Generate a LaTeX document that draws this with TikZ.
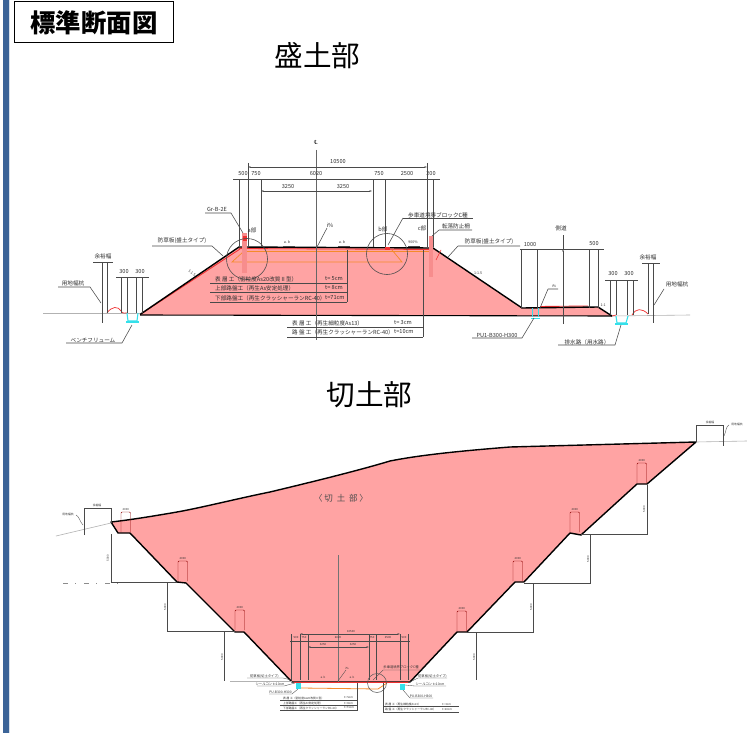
\documentclass[tikz,border=0pt]{standalone}
\usepackage{fontspec}
\setmainfont{Noto Sans CJK JP}
\newfontfamily\symfont{DejaVu Sans}
\usetikzlibrary{arrows.meta}
\definecolor{fillpink}{HTML}{FFA3A3}
\definecolor{barblue}{HTML}{3C6498}
\definecolor{flume}{HTML}{35E0EA}
\definecolor{redl}{HTML}{F03030}
\definecolor{orangel}{HTML}{F58A2A}
\definecolor{inkg}{HTML}{4A4A4A}
\definecolor{txtg}{HTML}{303030}
\tikzset{
  x=1pt,y=-1pt,
  >={Stealth[length=2.6pt,width=1.6pt]},
  fillbody/.style={fill=fillpink,draw=none},
  edgeln/.style={draw=black,line width=1.4pt,line join=round},
  thinln/.style={draw=inkg,line width=0.55pt},
  dimln/.style={draw=inkg,line width=0.45pt,<->},
  extln/.style={draw=inkg,line width=0.5pt},
  ground/.style={draw=black!30,line width=0.6pt},
  lab/.style={inner sep=0pt,text=txtg,font=\fontsize{5.6}{6}\selectfont},
  labs/.style={inner sep=0pt,text=txtg,font=\fontsize{3.6}{4}\selectfont},
  labm/.style={inner sep=0pt,text=txtg,font=\fontsize{3.3}{4}\selectfont},
  labt/.style={inner sep=0pt,text=txtg,font=\fontsize{2.8}{3}\selectfont},
  flumeln/.style={draw=flume,line width=1.1pt},
  postbox/.style={draw=red!55!black,line width=0.4pt,rounded corners=1pt},
}
\begin{document}
\begin{tikzpicture}
\useasboundingbox (0,0) rectangle (747,733);
\fill[white] (0,0) rectangle (747,733);
\fill[barblue] (3,0) rectangle (9,733);
\fill[barblue!20] (9,0) rectangle (10,733);
% title
\node[draw=black,line width=1.1pt,fill=white,minimum width=159pt,minimum height=41pt,inner sep=0pt,anchor=north west] (title) at (14,1) {};
\node[inner sep=0pt,font=\fontsize{25.4}{27}\selectfont\bfseries] (titletext) at (94,23) {標準断面図};
\node[inner sep=0pt,font=\fontsize{28.6}{30}\selectfont] (h1) at (317.5,56) {盛土部};
\node[inner sep=0pt,font=\fontsize{28.6}{30}\selectfont] (h2) at (369.5,395) {切土部};

% ---------- embankment
\fill[fillbody] (239,247)--(433,248)--(522,308)--(598,307)--(612,316)--(140,315)--cycle;
\draw[redl,line width=0.9pt] (141,314)--(240,249);
\draw[redl,line width=0.9pt] (540,306.5)--(588,306);
\draw[edgeln] (140,314.5)--(239,247)--(433,248)--(522,308)--(598,307)--(612,316);
\draw[black,line width=1.1pt] (140,315)--(612,316);
\draw[redl,line width=0.8pt] (239,248.5)--(433,249.5);
\draw[orangel,line width=0.7pt] (243,251)--(432,251);
\draw[orangel,line width=0.7pt] (243,252)--(232,262)--(402,262)--(392,250);
\fill[redl!55] (242,233) rectangle (247,273);
\fill[redl] (243,236) rectangle (247,241);
\fill[redl!55] (429,236) rectangle (432.5,277);
\fill[redl] (385,247) rectangle (390,250);
\draw[redl,line width=0.6pt] (436,260)--(441,250);
% ground and ditches
\draw[ground] (43,313)--(140,313);
\draw[ground] (612,316)--(690,315);
\draw[redl,line width=0.7pt] (107,313) .. controls (112,306) and (118,306) .. (121,311) .. controls (123,314) and (125,313) .. (127,313);
\draw[redl,line width=0.7pt] (632,315) .. controls (636,308) and (642,308) .. (648,314);
\draw[redl,line width=0.7pt] (612,316)--(616,315);
\draw[flumeln] (127,313)--(128,321)--(137,321)--(138,313);
\draw[flumeln] (126,322)--(139,322);
\draw[flumeln] (616,316)--(617,323)--(626,323)--(628,316);
\draw[flumeln] (615,324)--(628,324);
\draw[flumeln,line width=0.8pt] (532,308)--(532,317) (538,308)--(538,317);
\draw[flumeln,line width=0.8pt] (531,318)--(540,318);
% centre line
\draw[black!60,line width=0.8pt] (316.7,150)--(316.7,340);
\node[lab,font=\symfont\fontsize{5.6}{6}\selectfont] (cl) at (316,142) {℄};
% dims
\draw[dimln] (248,167)--(427,167);
\node[lab] (d10500) at (338,162) {10500};
\draw[extln] (233,179)--(440,179);
\node[lab] (d500a) at (243,174) {500};
\node[lab] (d750a) at (256,174) {750};
\node[lab] (d6020) at (316,174) {6020};
\node[lab] (d750b) at (379,174) {750};
\node[lab] (d2500) at (407,174) {2500};
\node[lab] (d200) at (431,174) {200};
\draw[dimln] (261,191)--(372,191);
\node[lab] (d3250a) at (288,187) {3250};
\node[lab] (d3250b) at (343,187) {3250};
\foreach \xx in {239,248,261,373,385,427,433}{\draw[extln] (\xx,179)--(\xx,247);}
\draw[extln] (248,163)--(248,179) (427,163)--(427,179);
% detail circles
\draw[black!70,line width=0.6pt] (247,259) circle[radius=20.5pt];
\draw[black!70,line width=0.6pt] (387,254) circle[radius=20.5pt];
% left labels
\node[lab] (grb) at (217,209) {Gr-B-2E};
\draw[thinln] (205,213)--(231,213)--(243,233);
\node[lab] (apart) at (252,230) {a部};
\node[lab] (bsL) at (182,241) {防草板(盛土タイプ)};
\draw[thinln] (152,246)--(212,246)--(223,256);
\node[lab] (isl) at (330,225) {i\%};
\draw[thinln] (327,228)--(317,247);
\draw[thinln] (283,246)--(295,246) (338,246)--(350,246);
\node[labs] (ab1) at (287,242) {a. b};
\node[labs] (ab2) at (342,242) {a. b};
% pavement table
\node[lab,anchor=west] (p1) at (215,279) {表 層 工（密粒度As20改質Ⅱ型）};
\node[lab,anchor=west] (p1t) at (325,279) {t= 5cm};
\node[lab,anchor=west] (p2) at (215,288) {上部路盤工（再生As安定処理）};
\node[lab,anchor=west] (p2t) at (325,288) {t= 8cm};
\node[lab,anchor=west] (p3) at (215,298) {下部路盤工（再生クラッシャーランRC-40）};
\node[lab,anchor=west] (p3t) at (325,298) {t=71cm};
\draw[thinln] (210,283)--(347,283) (210,292)--(347,292) (210,302)--(347,302) (347,250)--(347,302);
\node[lab,anchor=west] (q1) at (292,323) {表 層 工（再生細粒度As13）};
\node[lab,anchor=west] (q1t) at (394,323) {t= 3cm};
\node[lab,anchor=west] (q2) at (292,332) {路 盤 工（再生クラッシャーランRC-40）};
\node[lab,anchor=west] (q2t) at (394,332) {t=10cm};
\draw[thinln] (287,327)--(423,327) (287,337)--(423,337) (423,250)--(423,337);
% left edge dims
\foreach \xx/\ya/\yb in {102/262/323,107/262/313,121/277/313,127/277/313,136/277/313,142/277/313}{\draw[extln] (\xx,\ya)--(\xx,\yb);}
\draw[extln] (93,262)--(113,262);
\draw[extln] (116,277)--(149,277);
\node[lab] (yo1) at (103,256) {余裕幅};
\node[lab] (w1) at (124,272) {300};
\node[lab] (w2) at (140,272) {300};
\node[lab] (ku1) at (73,283) {用地幅杭};
\draw[thinln] (58,287)--(90,287)--(101,303);
\node[lab] (bf) at (93,340) {ベンチフリューム};
\draw[thinln] (66,343)--(122,343)--(132,325);
% right labels
\node[lab] (br) at (438,215) {歩車道境界ブロックC種};
\draw[thinln] (403,218)--(473,218);
\draw[thinln] (403,218)--(388,245);
\node[lab] (bpart) at (383,229) {b部};
\node[lab] (cpart) at (422,228) {c部};
\node[lab] (ten) at (456,226) {転落防止柵};
\draw[thinln] (439,230)--(472,230) (439,230)--(432,236);
\node[lab] (bsR) at (489,242) {防草板(盛土タイプ)};
\draw[thinln] (458,246)--(520,246) (458,246)--(448,257);
\node[labs] (p900) at (413,242) {900\%};
\draw[thinln] (408,246)--(420,246);
\node[labs] (s1) at (478,273) {1:1.5};
\node[labs] (s2) at (603,305) {1:1};
\node[labs,rotate=-35] (s3) at (192,273) {1:1.5};
% side road
\node[lab] (sd) at (561,228) {側道};
\draw[extln,->] (563,324)--(563,249);
\draw[extln] (563,235)--(563,249);
\draw[extln] (520,249)--(604,249);
\foreach \xx in {521,537,589,598}{\draw[extln] (\xx,249)--(\xx,308);}
\node[lab] (w1000) at (530,245) {1000};
\node[lab] (w500) at (594,244) {500};
\node[labs] (isr) at (554,286) {i\%};
\draw[thinln] (548,289)--(558,289) (548,289)--(540,308);
\node[lab] (pu) at (497,335) {PU1-B300-H300};
\draw[thinln] (472,338)--(522,338)--(534,318);
\node[lab] (hai) at (587,342) {排水路（用水路）};
\draw[thinln] (558,345)--(615,345)--(621,325);
% right edge dims
\foreach \xx in {610,616,627,633}{\draw[extln] (\xx,280)--(\xx,315);}
\draw[extln] (605,280)--(638,280);
\node[lab] (w3) at (613,274) {300};
\node[lab] (w4) at (629,274) {300};
\draw[extln] (642,263)--(660,263) (648,263)--(648,314) (653,263)--(653,323);
\node[lab] (yo2) at (648,257) {余裕幅};
\node[lab] (ku2) at (677,284) {用地幅杭};
\draw[thinln] (664,289)--(654,305);

% ---------- cut section
\fill[fillbody] (111,522) .. controls (130,520) and (160,515) .. (177,512)
  .. controls (200,508) and (240,498) .. (270,492) .. controls (320,480) and (360,470) .. (390,461)
  .. controls (420,455) and (460,451) .. (510,447) -- (696,442)
  -- (647,484)--(637,484)--(581,535)--(570,533)--(524,582)--(515,582)--(467,632)--(457,632)--(410,682)--(292,682)
  --(244,632)--(235,632)--(186,583)--(177,582)--(130,533)--(118,533)--cycle;
\draw[edgeln] (111,522) .. controls (130,520) and (160,515) .. (177,512)
  .. controls (200,508) and (240,498) .. (270,492) .. controls (320,480) and (360,470) .. (390,461)
  .. controls (420,455) and (460,451) .. (510,447) -- (696,442)
  -- (647,484)--(637,484)--(581,535)--(570,533)--(524,582)--(515,582)--(467,632)--(457,632)--(410,682)--(292,682)
  --(244,632)--(235,632)--(186,583)--(177,582)--(130,533)--(118,533)--cycle;
\draw[redl,line width=0.9pt] (294,682)--(408,682);
\node[inner sep=0pt,text=black!70,font=\fontsize{8.5}{10}\selectfont] (cutlab) at (341,498) {〈\ 切\ \ 土\ \ 部\ 〉};
% ground
\draw[ground] (56,536)--(111,523);
\draw[ground] (696,442)--(747,441);
\draw[ground] (230,681)--(292,681);
% top dims
\draw[extln] (84,535)--(84,508)--(111,508)--(111,523);
\node[labt] (yo3) at (97,505) {余裕幅};
\node[labt] (ku3) at (68,514) {用地幅杭};
\draw[thinln,line width=0.35pt] (76,515) .. controls (79,516) and (80,522) .. (83,525);
\draw[extln] (696,442)--(696,425)--(723,425)--(723,446);
\node[labt] (yo4) at (710,422) {余裕幅};
\node[labt] (ku4) at (737,424.5) {用地幅杭};
\draw[thinln,line width=0.35pt] (729,425) .. controls (726,426) and (726,432) .. (724,436);
% posts
\foreach \xa/\ya in {121/512,178/561,235/610,457/611,513/561,570/512,637/463}{
  \draw[postbox] (\xa,\ya+20)--(\xa,\ya)--(\xa+9.5,\ya)--(\xa+9.5,\ya+20);
  \node[labt] at (\xa+4.75,\ya-3) {2000};
}
% steps
\draw[extln] (111,534)--(111,582)--(177,582);
\draw[extln] (167,583)--(167,631)--(235,631);
\draw[extln] (224,632)--(224,681);
\draw[extln] (467,632)--(533,632)--(533,583);
\draw[extln] (524,583)--(590,583)--(590,535);
\draw[extln] (581,534)--(647,534)--(647,485);
\draw[extln] (476,632)--(476,680);
\node[labt,rotate=90] (st1) at (108,558) {5000};
\node[labt,rotate=90] (st2) at (165,607) {5000};
\node[labt,rotate=90] (st3) at (222,657) {5000};
\node[labt,rotate=90] (st4) at (531,607) {5000};
\node[labt,rotate=90] (st5) at (588,559) {5000};
\node[labt,rotate=90] (st6) at (644,509) {5000};
\node[labt,rotate=90] (st7) at (474,657) {5000};
\draw[black!45,line width=0.6pt,dash pattern=on 5pt off 7pt on 1pt off 8pt] (63,583.5)--(122,583.5);
% bottom plan
\draw[black!55,line width=0.5pt] (338,555)--(338,682);
\draw[dimln] (300,634)--(400,634);
\node[labt] (e10500) at (351,631) {10500};
\draw[extln] (290,641)--(410,641);
\draw[dimln] (308,647)--(369,647);
\foreach \xx in {291,300,308,369,376,400,408}{\draw[extln] (\xx,634)--(\xx,680);}
\node[labt] (e1) at (296,637.5) {500};
\node[labt] (e2) at (304,637.5) {750};
\node[labt] (e3) at (338,637.5) {6020};
\node[labt] (e4) at (372,637.5) {750};
\node[labt] (e5) at (388,637.5) {2500};
\node[labt] (e6) at (404,637.5) {500};
\node[labt] (e7) at (323,644) {3250};
\node[labt] (e8) at (353,644) {3250};
\draw[orangel,line width=0.8pt] (301,688)--(378,689)--(387,683);
\draw[black!65,line width=0.5pt] (377,683) circle[radius=9.5pt];
\fill[flume] (296,683) rectangle (301,688.5);
\fill[flume] (400,684) rectangle (405,689.5);
\node[labt] (il2) at (347,668) {i\%};
\draw[thinln,line width=0.35pt] (346,670)--(338,681);
\node[labt] (a1) at (323,677) {a. b};
\node[labt] (a2) at (352,677) {a. b};
\node[labm] (bk) at (401,667) {歩車道境界ブロックC種};
\draw[thinln,line width=0.35pt] (383,670)--(423,670) (383,670)--(373,680);
\node[labm] (bl) at (264.5,676) {防草板(切土タイプ)};
\draw[thinln,line width=0.35pt] (247,678)--(283,678)--(291,680);
\node[labm] (sl) at (270,684) {シールコン t=10cm};
\draw[thinln,line width=0.35pt] (257,686)--(284,686)--(295,683);
\node[labm] (pl) at (280.5,692) {PU-B300-H300};
\draw[thinln,line width=0.35pt] (269,694)--(292,694)--(298,689);
\node[labm] (br2) at (432.5,676) {防草板(切土タイプ)};
\draw[thinln,line width=0.35pt] (418,678)--(447,678) (418,678)--(410,682);
\node[labm] (sr) at (430,684) {シールコン t=10cm};
\draw[thinln,line width=0.35pt] (415,686)--(446,686) (415,686)--(405,685);
\node[labm] (pr) at (421,696) {PU-B300-H300};
\draw[thinln,line width=0.35pt] (410,698)--(433,698) (410,698)--(403,690);
% bottom tables
\node[labt,anchor=west] (t1) at (283,698) {表 層 工（密粒度As20改質Ⅱ型）};
\node[labt,anchor=west] (t1b) at (344,698) {t= 5cm};
\node[labt,anchor=west] (t2) at (283,703) {上部路盤工（再生As安定処理）};
\node[labt,anchor=west] (t2b) at (344,703) {t= 8cm};
\node[labt,anchor=west] (t3) at (283,708) {下部路盤工（再生クラッシャーランRC-40）};
\node[labt,anchor=west] (t3b) at (344,708) {t=71cm};
\draw[thinln,line width=0.4pt] (280,700.5)--(357,700.5) (280,705.5)--(357,705.5) (280,710.5)--(357,710.5) (357,683)--(357,710.5);
\node[labt,anchor=west] (u1) at (385,704) {表 層 工（再生細粒度As13）};
\node[labt,anchor=west] (u1b) at (442,704) {t= 3cm};
\node[labt,anchor=west] (u2) at (385,709.5) {路 盤 工（再生クラッシャーランRC-40）};
\node[labt,anchor=west] (u2b) at (442,709.5) {t=10cm};
\draw[thinln,line width=0.4pt] (383,706.5)--(459,706.5) (383,712)--(459,712) (383,683)--(383,712);
\end{tikzpicture}
\end{document}
